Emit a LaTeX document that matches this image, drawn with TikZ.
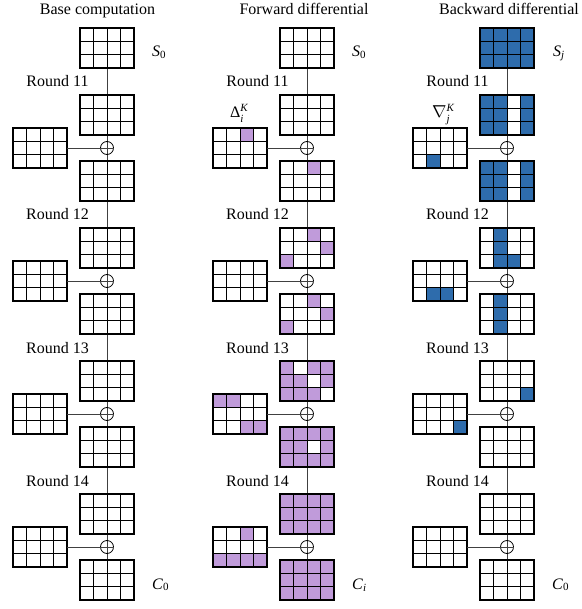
\documentclass[tikz,border=0pt]{standalone}
\usepackage{fontspec}
\setmainfont{Liberation Serif}
\usetikzlibrary{backgrounds}
\definecolor{fwd}{RGB}{192,155,218}
\definecolor{bwd}{RGB}{46,108,172}
\tikzset{
  gridbox/.style={rectangle, minimum width=54pt, minimum height=40pt, inner sep=0pt, outer sep=0pt},
  cellline/.style={line width=1pt, black},
  gridframe/.style={line width=1.6pt, black},
  xorop/.style={circle, draw, line width=0.8pt, minimum size=13pt, inner sep=0pt},
  wire/.style={line width=0.8pt, black!75},
  lbl/.style={font=\fontsize{16}{18}\selectfont, anchor=base, inner sep=0pt},
  sym/.style={font=\fontsize{16}{18}\selectfont, anchor=base west, inner sep=0pt},
}
\newcommand\smallit[1]{\mbox{\fontsize{11}{11}\selectfont\itshape #1}}
\newcommand\stgrid[5]{%
  \node[gridbox] (#1) at (#2+27,#3+20) {};
  \foreach \gr/\gc in {#5} {\fill[#4] (#2+\gc*13.5,#3+\gr*13.3333) rectangle ++(13.5,13.3333);}
  \foreach \gi in {1,2,3} {\draw[cellline] (#2+\gi*13.5,#3) -- ++(0,40);}
  \foreach \gj in {1,2} {\draw[cellline] (#2,#3+\gj*13.3333) -- ++(54,0);}
  \draw[gridframe] (#1.north west) rectangle (#1.south east);
}
% #1 prefix, #2 dx, #3 top t, #4 round, #5 colour, #6 A cells, #7 key cells, #8 B cells
\newcommand\roundblock[8]{%
  \node[lbl] (#1lab#4) at (#2+57.5,#3-8) {Round #4};
  \stgrid{#1a#4}{#2+80}{#3}{#5}{#6}
  \stgrid{#1k#4}{#2+13}{#3+33}{#5}{#7}
  \stgrid{#1b#4}{#2+80}{#3+66}{#5}{#8}
  \node[xorop] (#1x#4) at (#2+107,#3+53) {};
  \draw[wire] (#1k#4.east) -- (#1x#4.west);
  \draw[wire] (#1x#4.west) -- (#1x#4.east);
}
\begin{document}
\begin{tikzpicture}[x=1pt,y=-1pt]
\useasboundingbox (0,0) rectangle (581,609);
% ---------- column 1: base computation
\node[lbl] (t1) at (97.5,15) {Base computation};
\stgrid{ps}{80}{28}{fwd}{}
\node[sym] (ls1) at (152,57) {\textit{S}\raisebox{-1.5pt}{\fontsize{11}{11}\selectfont 0}};
\roundblock{p}{0}{95}{11}{fwd}{}{}{}
\roundblock{p}{0}{228}{12}{fwd}{}{}{}
\roundblock{p}{0}{361}{13}{fwd}{}{}{}
\roundblock{p}{0}{494}{14}{fwd}{}{}{}
\node[sym] (lc1) at (152,589) {\textit{C}\raisebox{-1.5pt}{\fontsize{11}{11}\selectfont 0}};
% ---------- column 2: forward differential
\node[lbl] (t2) at (304,15) {Forward differential};
\stgrid{fs}{280}{28}{fwd}{}
\node[sym] (ls2) at (352,57) {\textit{S}\raisebox{-1.5pt}{\fontsize{11}{11}\selectfont 0}};
\roundblock{f}{200}{95}{11}{fwd}{}{0/2}{0/2}
\roundblock{f}{200}{228}{12}{fwd}{0/2,1/3,2/0}{}{0/2,1/3,2/0}
\roundblock{f}{200}{361}{13}{fwd}{0/0,0/2,0/3,1/0,1/1,1/3,2/0,2/1,2/2}{0/0,0/1,2/2,2/3}{0/0,0/1,0/2,0/3,1/0,1/1,1/3,2/0,2/1,2/2,2/3}
\roundblock{f}{200}{494}{14}{fwd}{0/0,0/1,0/2,0/3,1/0,1/1,1/2,1/3,2/0,2/1,2/2,2/3}{0/2,2/0,2/1,2/2,2/3}{0/0,0/1,0/2,0/3,1/0,1/1,1/2,1/3,2/0,2/1,2/2,2/3}
\node[sym] (ld2) at (230,118) {$\mbox{Δ}^{\smallit{K}}_{\smallit{i}}$};
\node[sym] (lc2) at (352,589) {\textit{C}\raisebox{-2pt}{\fontsize{11}{11}\selectfont\itshape i}};
% ---------- column 3: backward differential
\node[lbl] (t3) at (509,15) {Backward differential};
\stgrid{bs}{480}{28}{bwd}{0/0,0/1,0/2,0/3,1/0,1/1,1/2,1/3,2/0,2/1,2/2,2/3}
\node[sym] (ls3) at (553,57) {\textit{S}\raisebox{-2pt}{\fontsize{11}{11}\selectfont\itshape j}};
\roundblock{b}{400}{95}{11}{bwd}{0/0,0/1,0/3,1/0,1/1,1/3,2/0,2/1,2/3}{2/1}{0/0,0/1,0/3,1/0,1/1,1/3,2/0,2/1,2/3}
\roundblock{b}{400}{228}{12}{bwd}{0/1,1/1,2/1,2/2}{2/1,2/2}{0/1,1/1,2/1}
\roundblock{b}{400}{361}{13}{bwd}{2/3}{2/3}{}
\roundblock{b}{400}{494}{14}{bwd}{}{}{}
\node[sym] (ln3) at (432,118) {$\nabla^{\smallit{K}}_{\smallit{j}}$};
\node[sym] (lc3) at (552,589) {\textit{C}\raisebox{-1.5pt}{\fontsize{11}{11}\selectfont 0}};
% ---------- vertical data paths
\begin{scope}[on background layer]
  \draw[wire] (ps.center) -- (pb14.center);
  \draw[wire] (fs.center) -- (fb14.center);
  \draw[wire] (bs.center) -- (bb14.center);
\end{scope}
\end{tikzpicture}
\end{document}
